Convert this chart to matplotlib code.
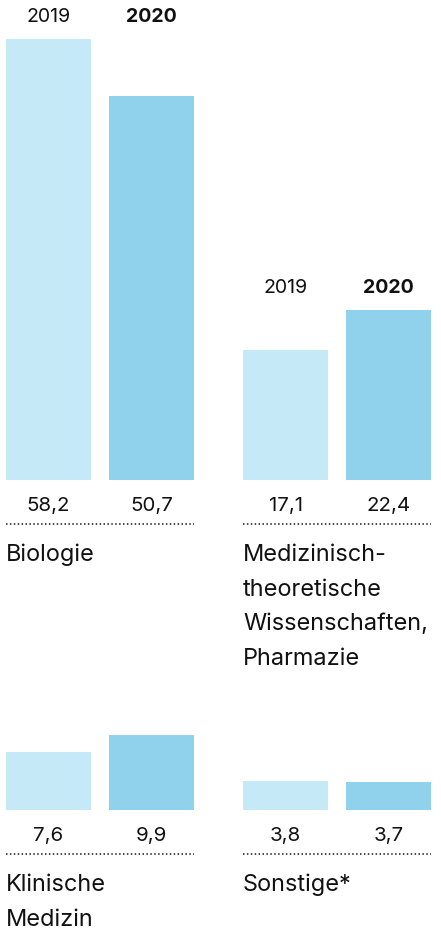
import matplotlib.pyplot as plt
from matplotlib.transforms import offset_copy

plt.rcParams['font.family'] = ['Inter', 'DejaVu Sans']

years = ['2019', '2020']
categories = [
    ['Biologie'],
    ['Medizinisch-', 'theoretische', 'Wissenschaften,', 'Pharmazie'],
    ['Klinische', 'Medizin'],
    ['Sonstige*'],
]
values_2019 = [58.2, 17.1, 7.6, 3.8]
values_2020 = [50.7, 22.4, 9.9, 3.7]
show_years = [True, True, False, False]

color_2019 = '#c6e9f8'
color_2020 = '#90d1ec'
text_color = '#111111'

W, H = 441, 929
DPI = 72  # 1 pt == 1 px
PX_PER_UNIT = 7.58

# panel layout in pixels: left edge, baseline, axes height
panels = [(6, 480, 470), (243, 480, 470), (6, 810, 110), (243, 810, 110)]
panel_w = 188
bar_w = 85 / 103


def fmt(v):
    return f'{v:.1f}'.replace('.', ',')


fig = plt.figure(figsize=(W / DPI, H / DPI), dpi=DPI)

for i, (left, base, h) in enumerate(panels):
    ax = fig.add_axes([left / W, 1 - base / H, panel_w / W, h / H])
    vals = [values_2019[i], values_2020[i]]
    ax.bar([0, 1], vals, width=bar_w, color=[color_2019, color_2020])
    ax.set_xlim(-bar_w / 2, 1 + bar_w / 2)
    ax.set_ylim(0, h / PX_PER_UNIT)
    ax.axis('off')

    # year labels above the taller bar
    if show_years[i]:
        for j, yr in enumerate(years):
            ax.annotate(yr, (j, max(vals)), xytext=(0, 17), textcoords='offset points',
                        ha='center', va='baseline', fontsize=19.5, color=text_color,
                        fontweight='bold' if j == 1 else 'normal', annotation_clip=False)

    # values under the bars
    for j, v in enumerate(vals):
        ax.annotate(fmt(v), (j, 0), xytext=(0, -30.5), textcoords='offset points',
                    ha='center', va='baseline', fontsize=20.5, color=text_color,
                    annotation_clip=False)

    # dotted rule
    tr = offset_copy(ax.transData, fig=fig, y=-43.5, units='dots')
    ax.plot([-bar_w / 2, 1 + bar_w / 2], [0, 0], transform=tr, color=text_color,
            linestyle=(0, (1, 1.6)), linewidth=1.5, clip_on=False,
            solid_capstyle='butt', dash_capstyle='butt')

    # category name, one line at a time
    for k, line in enumerate(categories[i]):
        ax.annotate(line, (-bar_w / 2, 0), xytext=(0, -81 - 34.7 * k),
                    textcoords='offset points', ha='left', va='baseline',
                    fontsize=23.5, color=text_color, annotation_clip=False)

fig.savefig('out.png', dpi=DPI)
